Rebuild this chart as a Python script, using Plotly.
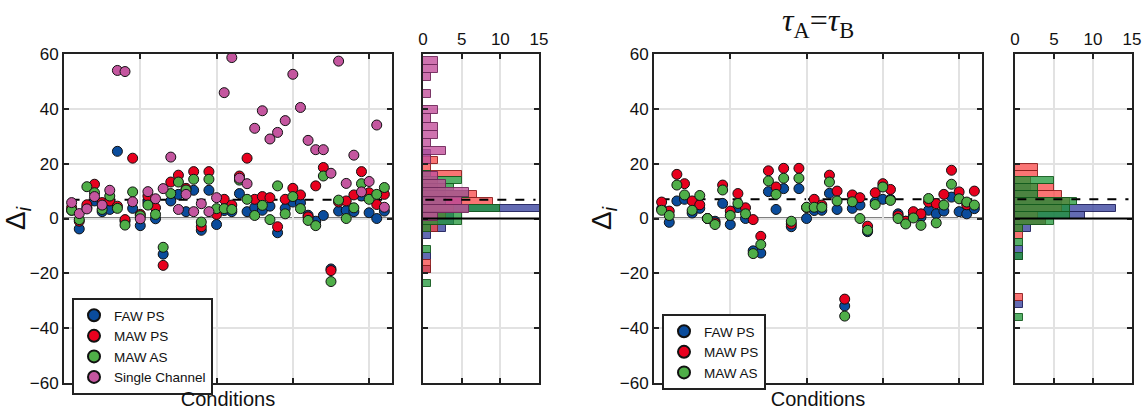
import plotly.graph_objects as go

# ---------------- data ----------------
conditions = list(range(1, 43))

# Left panel (4 series)
left_faw_ps = [3, -3.8, 4, 6.4, 2.5, 3.3, 24.5, -1, 3.7, -2.6, 6, -0.1, -13, 6.4, 8.8, 2.5, 10.3, -4.3, 10.3, -2.2,
               2.9, 2.5, 9.1, 2.5, 4, 3, 4.5, -5.2, 3.7, 6, 5.7, 1.2, -1, 1.1, -18.4, 2.7, 2.9, 2.5, 8.2, 2.1, 0, 2.7]
left_maw_ps = [4, -1, 5, 12.5, 5.8, 6.4, 4.5, -0.4, 22, 1.5, 8.2, 3.9, -17.1, 13.3, 15.8, 11, 17.1, -3, 17.1, 1.5,
               7, 4.9, 15.5, 22, 7, 8, 7.6, -3, 7, 11, 8.6, 0.6, 11.9, 18.6, -19, 6, 6.4, 8.6, 17.1, 9.4, 5.1, 8.8]
left_maw_as = [3, -0.4, 11.6, 9.4, 3.3, 8.2, 3.7, -2.4, 9.7, 1, 4.9, 1.5, -10.5, 9.1, 13.3, 10.4, 14.3, -1.3, 14.3, 3.6,
               3.6, 3.3, 14, 7, 1.1, 4.8, -0.4, 11.9, 1.7, 8, 3.6, -0.7, -2.6, 15.5, -23, 6.7, 0, 3.9, 12.7, 7, 8.8, 11.3]
left_single = [5.8, 1.8, 3.5, 8, 4.9, 10.3, 54, 53.6, 6.1, -0.1, 9.8, 7.2, 10.9, 22.4, 3.3, 8.8, 2.5, 5.4, 2.5, 7.6,
               45.9, 58.7, 14.7, 12.7, 32.9, 39.3, 29, 31.4, 35.7, 52.6, 40.5, 28.5, 25.1, 25.1, 16.5, 57.4, 12.8, 23.1,
               9.7, 13.5, 34.1, 4.1]

# Right panel (3 series)
right_faw_ps = [3.5, -1.4, 6.4, 7, 2, 3.7, 0, -1, 5.5, -2.2, 4, 0, -11.8, -12.6, 9.8, 3.3, 10.9, -3, 10.9, 0,
                2.9, 3, 9.2, 3.3, -31.9, 3.7, 4.9, -4.8, 6, 7, 7, 1.7, -1, 1, 0.5, 3, 1.7, 2.7, 7.8, 2.5, 1.7, 3.6]
right_maw_ps = [6, 2.7, 16.1, 12.7, 6.4, 5, 0, -1.6, 12.2, 2.7, 9.1, 3.9, -0.4, -6.5, 17.4, 11.5, 18.3, -2, 18.3, 4,
                7, 4.9, 15.8, 10, -29.4, 8.6, 7.6, -2.8, 9.4, 12.7, 10.6, 1, -1, 2.5, 1.7, 6, 5.4, 8.8, 17.6, 9.7, 5, 10]
right_maw_as = [3, 1.1, 12.2, 8.6, 3, 8.4, 0, -2.2, 10.4, 1.1, 5.5, 1.7, -12.8, -9.5, 13.7, 8.8, 14.7, -1, 14.7, 4.1,
                4.1, 4.1, 13.3, 6.4, -35.6, 6.1, 0, -4.3, 5.1, 11.5, 6.6, 0, -2, 0.2, -2.5, 7.3, -1.6, 4.9, 12.5, 7.2, 6, 4.9]

mean_left = 6.8
mean_right = 7.0

y_ticks = [-60, -40, -20, 0, 20, 40, 60]
x_ticks = [10, 20, 30, 40]
hist_ticks = [0, 5, 10, 15]

names = ["FAW PS", "MAW PS", "MAW AS", "Single Channel"]
marker_colors = ["#0a4c9c", "#e8001e", "#4fae48", "#c4569f"]
hist_fill = ["rgba(60,70,160,0.80)", "rgba(248,70,70,0.75)", "rgba(30,150,55,0.75)", "rgba(195,80,155,0.80)"]
hist_line = ["rgba(30,30,90,0.9)", "rgba(140,30,30,0.9)", "rgba(20,90,30,0.9)", "rgba(110,40,90,0.9)"]

FONT = "Liberation Sans, Arial, sans-serif"

fig = go.Figure()

left_series = [left_faw_ps, left_maw_ps, left_maw_as, left_single]
right_series = [right_faw_ps, right_maw_ps, right_maw_as]

for i, vals in enumerate(left_series):
    fig.add_trace(go.Scatter(x=conditions, y=vals, mode="markers", name=names[i],
                             marker=dict(size=10, color=marker_colors[i], line=dict(color="#111", width=1)),
                             xaxis="x", yaxis="y", legend="legend"))
for i, vals in enumerate(right_series):
    fig.add_trace(go.Scatter(x=conditions, y=vals, mode="markers", name=names[i],
                             marker=dict(size=10, color=marker_colors[i], line=dict(color="#111", width=1)),
                             xaxis="x3", yaxis="y3", legend="legend2"))

for i, vals in enumerate(left_series):
    size = 3 if i == 3 else 2.5
    fig.add_trace(go.Histogram(y=vals, orientation="h", ybins=dict(start=-40, end=62, size=size),
                               marker=dict(color=hist_fill[i], line=dict(color=hist_line[i], width=1)),
                               xaxis="x2", yaxis="y2", showlegend=False))
for i, vals in enumerate(right_series):
    fig.add_trace(go.Histogram(y=vals, orientation="h", ybins=dict(start=-40, end=62, size=2.5),
                               marker=dict(color=hist_fill[i], line=dict(color=hist_line[i], width=1)),
                               xaxis="x4", yaxis="y4", showlegend=False))

W, H = 1142, 410
ydom = [1 - 383 / H, 1 - 54 / H]

common_axis = dict(showline=True, linecolor="#222", linewidth=2, mirror="ticks", ticks="inside",
                   ticklen=5, tickwidth=1.5, tickcolor="#222", showgrid=True, gridcolor="#e2e2e2",
                   gridwidth=2, zeroline=False, automargin=False, ticklabeloverflow="allow",
                   tickfont=dict(family=FONT, size=17, color="#111"))

def scatter_x(dom):
    return dict(common_axis, domain=dom, range=[0, 43], tickvals=x_ticks, showticklabels=False,
                title=dict(text="Conditions", font=dict(family=FONT, size=20, color="#111"), standoff=8))

def scatter_y(dom_anchor):
    return dict(common_axis, domain=ydom, range=[-60, 60], tickvals=y_ticks, anchor=dom_anchor,
                title=dict(text="Δ<sub><i>i</i></sub>", font=dict(family=FONT, size=28, color="#111"), standoff=0))

def hist_x(dom):
    return dict(common_axis, domain=dom, range=[0, 15], tickvals=hist_ticks, side="top")

def hist_y(anchor):
    return dict(common_axis, domain=ydom, range=[-60, 60], tickvals=y_ticks, showticklabels=False, anchor=anchor)

legend_common = dict(xanchor="left", yanchor="top", bgcolor="white", bordercolor="#222", borderwidth=2,
                     font=dict(family=FONT, size=13.5, color="#111"), itemsizing="constant", tracegroupgap=0)

fig.update_layout(
    width=W, height=H, margin=dict(l=0, r=0, t=0, b=0, autoexpand=False),
    paper_bgcolor="white", plot_bgcolor="white", barmode="overlay",
    xaxis=dict(scatter_x([64 / W, 392 / W]), anchor="y"),
    yaxis=scatter_y("x"),
    xaxis2=dict(hist_x([423 / W, 539 / W]), anchor="y2"),
    yaxis2=hist_y("x2"),
    xaxis3=dict(scatter_x([654 / W, 982 / W]), anchor="y3"),
    yaxis3=scatter_y("x3"),
    xaxis4=dict(hist_x([1015 / W, 1132 / W]), anchor="y4"),
    yaxis4=hist_y("x4"),
    legend=dict(legend_common, x=72 / W, y=1 - 298 / H),
    legend2=dict(legend_common, x=662 / W, y=1 - 314 / H),
    showlegend=True,
)

shapes = []
for xa, ya, m, layer in [("x", "y", mean_left, "below"), ("x2", "y2", mean_left, "above"),
                         ("x3", "y3", mean_right, "below"), ("x4", "y4", mean_right, "above")]:
    shapes.append(dict(type="line", xref=f"{xa} domain", yref=ya, x0=0, x1=1, y0=0, y1=0,
                       line=dict(color="black", width=2), layer=layer))
    shapes.append(dict(type="line", xref=f"{xa} domain", yref=ya, x0=0.02, x1=0.97, y0=m, y1=m,
                       line=dict(color="black", width=2, dash="dash"), layer=layer))
fig.update_layout(shapes=shapes)

fig.add_annotation(xref="paper", yref="paper", x=(654 + 982) / 2 / W, y=1 - 22 / H,
                   xanchor="center", yanchor="middle",
                   text="<i>τ</i><sub>A</sub>=<i>τ</i><sub>B</sub>", showarrow=False,
                   font=dict(family="Liberation Serif, Times New Roman, serif", size=32, color="#111"))

fig.write_html("out.html")
